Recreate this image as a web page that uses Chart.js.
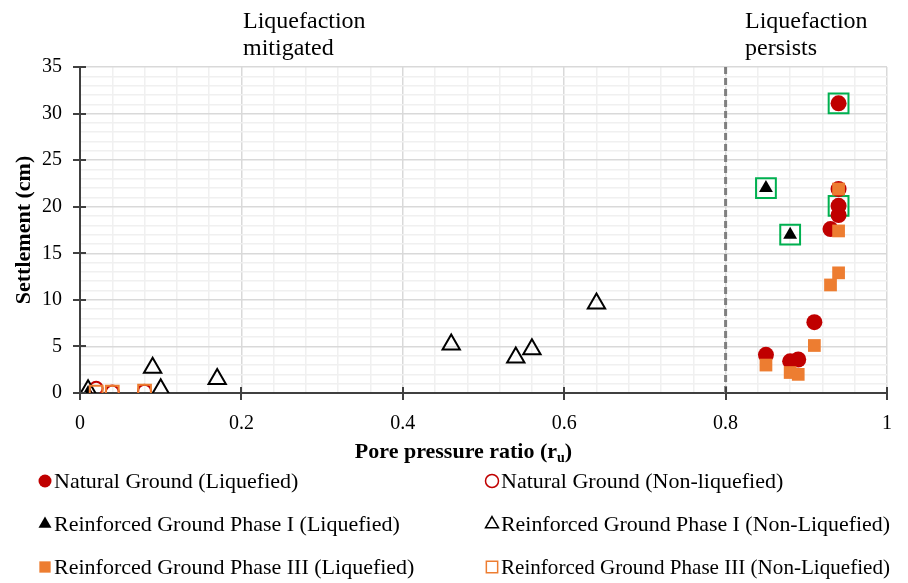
<!DOCTYPE html>
<html>
<head>
<meta charset="utf-8">
<title>Settlement vs pore pressure ratio</title>
<script src="https://cdn.jsdelivr.net/npm/chart.js@4.4.1/dist/chart.umd.min.js"></script>
<style>
  html, body { margin: 0; padding: 0; background: #fff; }
  #wrap { width: 908px; height: 583px; }
</style>
</head>
<body>
<div id="wrap"><canvas id="chart" width="908" height="583"></canvas></div>
<script>
// pore pressure ratio (x) and settlement in cm (y) for each series
const naturalLiqRu   = [0.94, 0.94, 0.94, 0.94, 0.93, 0.91, 0.85, 0.88, 0.89];
const naturalLiqSet  = [31.1, 21.9, 20.1, 19.1, 17.6, 7.6, 4.1, 3.4, 3.6];
const naturalNonRu   = [0.02, 0.04, 0.08];
const naturalNonSet  = [0.5, 0.1, 0.2];
const phase1LiqRu    = [0.85, 0.88, 0.01];
const phase1LiqSet   = [22.0, 17.0, 0.0];
const phase1NonRu    = [0.01, 0.09, 0.10, 0.17, 0.46, 0.54, 0.56, 0.64];
const phase1NonSet   = [0.3, 2.7, 0.4, 1.5, 5.2, 3.8, 4.7, 9.6];
const phase3LiqRu    = [0.94, 0.94, 0.94, 0.93, 0.91, 0.85, 0.88, 0.89];
const phase3LiqSet   = [21.9, 17.4, 12.9, 11.6, 5.1, 3.0, 2.2, 2.0];
const phase3NonRu    = [0.02, 0.04, 0.08];
const phase3NonSet   = [0.1, 0.1, 0.2];
// highlighted tests
const boxedRu        = [0.94, 0.85, 0.88, 0.94];
const boxedSet       = [31.1, 22.0, 17.0, 20.1];

const thresholdRu = 0.8;
const xTicks = [0, 0.2, 0.4, 0.6, 0.8, 1];
const yTicks = [0, 5, 10, 15, 20, 25, 30, 35];

const RED = '#c00000';
const ORANGE = '#ed7d31';
const GREEN = '#00b050';
const SERIF = 'Liberation Serif';

function pts(xs, ys) {
  return xs.map((x, i) => ({ x: x, y: ys[i] }));
}

const series = [
  { label: 'Natural Ground (Liquefied)', data: pts(naturalLiqRu, naturalLiqSet),
    pointStyle: 'circle', radius: 8, fill: RED, stroke: RED, lw: 0 },
  { label: 'Natural Ground (Non-liquefied)', data: pts(naturalNonRu, naturalNonSet),
    pointStyle: 'circle', radius: 6.5, fill: 'rgba(0,0,0,0)', stroke: RED, lw: 2 },
  { label: 'Reinforced Ground Phase I (Liquefied)', data: pts(phase1LiqRu, phase1LiqSet),
    pointStyle: 'triangle', radius: 8, fill: '#000', stroke: '#000', lw: 0 },
  { label: 'Reinforced Ground Phase I (Non-Liquefied)', data: pts(phase1NonRu, phase1NonSet),
    pointStyle: 'triangle', radius: 10, fill: 'rgba(0,0,0,0)', stroke: '#000', lw: 2 },
  { label: 'Reinforced Ground Phase III (Liquefied)', data: pts(phase3LiqRu, phase3LiqSet),
    pointStyle: 'rect', radius: 9, fill: ORANGE, stroke: ORANGE, lw: 0 },
  { label: 'Reinforced Ground Phase III (Non-Liquefied)', data: pts(phase3NonRu, phase3NonSet),
    pointStyle: 'rect', radius: 9, fill: 'rgba(0,0,0,0)', stroke: ORANGE, lw: 2 }
];

const datasets = series.map((s, i) => ({
  label: s.label,
  data: s.data,
  pointStyle: s.pointStyle,
  pointRadius: s.radius,
  pointHoverRadius: s.radius,
  backgroundColor: s.fill,
  borderColor: s.stroke,
  borderWidth: s.lw,
  showLine: false,
  order: 10 - i
}));
datasets.push({
  label: 'highlight',
  data: pts(boxedRu, boxedSet),
  pointStyle: 'rect',
  pointRadius: 14,
  pointHoverRadius: 14,
  backgroundColor: 'rgba(0,0,0,0)',
  borderColor: GREEN,
  borderWidth: 2,
  showLine: false,
  order: 20
});

function isMultiple(v, step) {
  return Math.abs(v / step - Math.round(v / step)) < 1e-6;
}

const overlay = {
  id: 'overlay',
  beforeDatasetsDraw(chart) {
    const { ctx, chartArea, scales } = chart;
    const px = scales.x.getPixelForValue(thresholdRu);
    ctx.save();
    ctx.strokeStyle = '#7f7f7f';
    ctx.lineWidth = 3;
    ctx.setLineDash([7, 4]);
    ctx.beginPath();
    ctx.moveTo(px, chartArea.top);
    ctx.lineTo(px, chartArea.bottom);
    ctx.stroke();
    ctx.restore();
  },
  afterDraw(chart) {
    const { ctx, chartArea, scales } = chart;
    ctx.save();

    // tick marks crossing the axes
    ctx.strokeStyle = '#404040';
    ctx.lineWidth = 2;
    ctx.beginPath();
    xTicks.forEach(v => {
      const px = Math.round(scales.x.getPixelForValue(v));
      ctx.moveTo(px, chartArea.bottom - 6);
      ctx.lineTo(px, chartArea.bottom + 7);
    });
    yTicks.forEach(v => {
      const py = Math.round(scales.y.getPixelForValue(v));
      ctx.moveTo(chartArea.left - 7, py);
      ctx.lineTo(chartArea.left + 6, py);
    });
    ctx.stroke();

    // region notes above the plot
    ctx.fillStyle = '#000';
    ctx.font = '24px "' + SERIF + '"';
    ctx.textAlign = 'left';
    ctx.textBaseline = 'alphabetic';
    ctx.fillText('Liquefaction', 243, 28);
    ctx.fillText('mitigated', 243, 55);
    ctx.fillText('Liquefaction', 745, 28);
    ctx.fillText('persists', 745, 55);

    // axis titles
    const main = 'Pore pressure ratio (r';
    const sub = 'u';
    const tail = ')';
    ctx.font = 'bold 22px "' + SERIF + '"';
    const wMain = ctx.measureText(main).width;
    const wTail = ctx.measureText(tail).width;
    ctx.font = 'bold 14px "' + SERIF + '"';
    const wSub = ctx.measureText(sub).width;
    const total = wMain + wSub + wTail;
    const tx = (chartArea.left + chartArea.right) / 2 - total / 2 - 20;
    const ty = 458;
    ctx.font = 'bold 22px "' + SERIF + '"';
    ctx.fillText(main, tx, ty);
    ctx.font = 'bold 14px "' + SERIF + '"';
    ctx.fillText(sub, tx + wMain, ty + 4);
    ctx.font = 'bold 22px "' + SERIF + '"';
    ctx.fillText(tail, tx + wMain + wSub, ty);

    ctx.save();
    ctx.translate(30, (chartArea.top + chartArea.bottom) / 2);
    ctx.rotate(-Math.PI / 2);
    ctx.textAlign = 'center';
    ctx.fillText('Settlement (cm)', 0, 0);
    ctx.restore();

    // legend, two columns by three rows
    const cols = [45, 492];
    const rows = [481, 524, 567];
    ctx.font = '22px "' + SERIF + '"';
    ctx.textBaseline = 'middle';
    series.forEach((s, i) => {
      const cx = cols[i % 2];
      const cy = rows[Math.floor(i / 2)];
      ctx.fillStyle = s.fill;
      ctx.strokeStyle = s.stroke;
      ctx.lineWidth = 1.5;
      ctx.setLineDash([]);
      Chart.helpers.drawPoint(ctx, {
        pointStyle: s.pointStyle,
        radius: s.pointStyle === 'rect' ? 8 : (s.pointStyle === 'triangle' ? 7.5 : 6.5),
        borderWidth: s.lw ? 1.8 : 0,
        rotation: 0
      }, cx, cy);
      ctx.fillStyle = '#000';
      const textX = cx + 9;
      ctx.fillText(s.label, textX, cy + 1, (i % 2 ? 890 : 470) - textX);
    });

    ctx.restore();
  }
};

new Chart(document.getElementById('chart'), {
  type: 'scatter',
  data: { datasets: datasets },
  options: {
    responsive: false,
    animation: false,
    layout: { padding: { top: 67, right: 21, left: 0, bottom: 0 } },
    plugins: {
      legend: { display: false },
      tooltip: { enabled: false }
    },
    scales: {
      x: {
        type: 'linear',
        min: 0,
        max: 1,
        afterFit(scale) {
          scale.height = 190;
          scale.paddingLeft = 0;
          scale.paddingRight = 0;
        },
        border: { color: '#404040', width: 2 },
        grid: {
          drawTicks: false,
          color: c => isMultiple(c.tick.value, 0.2) ? '#d9d9d9' : '#f0f0f0',
          lineWidth: 1.5
        },
        ticks: {
          stepSize: 0.04,
          autoSkip: false,
          maxRotation: 0,
          padding: 19,
          color: '#000',
          font: { family: SERIF, size: 20 },
          callback: v => isMultiple(v, 0.2) ? String(Math.round(v * 10) / 10) : ''
        }
      },
      y: {
        type: 'linear',
        min: 0,
        max: 35,
        afterFit(scale) {
          scale.width = 80;
          scale.paddingTop = 0;
          scale.paddingBottom = 0;
        },
        border: { color: '#404040', width: 2 },
        grid: {
          drawTicks: false,
          color: c => isMultiple(c.tick.value, 5) ? '#d9d9d9' : '#f0f0f0',
          lineWidth: 1.5
        },
        ticks: {
          stepSize: 1,
          autoSkip: false,
          padding: 18,
          color: '#000',
          font: { family: SERIF, size: 20 },
          callback: v => isMultiple(v, 5) ? String(v) : ''
        }
      }
    }
  },
  plugins: [overlay]
});
</script>
</body>
</html>
